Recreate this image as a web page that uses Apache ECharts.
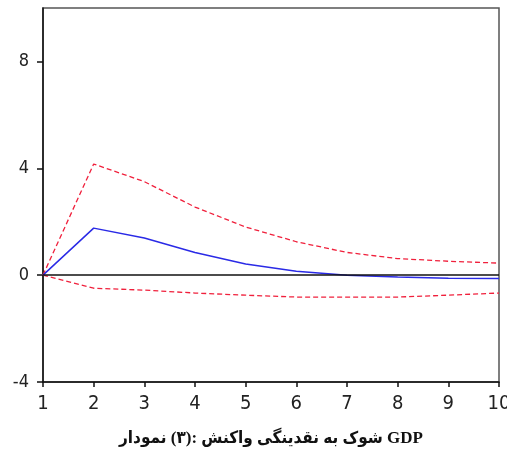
<!DOCTYPE html>
<html><head><meta charset="utf-8">
<script src="https://cdn.jsdelivr.net/npm/echarts@6/dist/echarts.min.js"></script>
<style>html,body{margin:0;padding:0;background:#fff}#c{width:507px;height:456px}</style>
</head><body><div id="c"></div>
<script>
const periods = [1,2,3,4,5,6,7,8,9,10];
const response = [0, 1.76, 1.39, 0.85, 0.42, 0.15, 0.0, -0.07, -0.12, -0.13];
const upperBand = [0, 4.16, 3.5, 2.55, 1.8, 1.25, 0.85, 0.62, 0.52, 0.45];
const lowerBand = [0, -0.49, -0.56, -0.67, -0.75, -0.82, -0.82, -0.82, -0.75, -0.67];
const yTicks = [-4, 0, 4, 8];
const title = 'نمودار (۳): واکنش نقدینگی به شوک GDP';

// the source lays the words out left to right; draw each word as its own piece
const titleShown = title.split(' ').map(w => '{w|' + w + '}').join('{w| }');
const titleStyle = {fontFamily: 'Liberation Serif, DejaVu Sans Condensed, DejaVu Sans, serif', fontWeight: 'bold', fontSize: 17, color: '#111'};
const pairs = arr => periods.map((p, i) => [p, arr[i]]);
const labelFont = 'Liberation Sans Narrow, DejaVu Sans Condensed, Arial, sans-serif';
const chart = echarts.init(document.getElementById('c'), null, {renderer: 'canvas'});
chart.setOption({
  animation: false,
  backgroundColor: '#fff',
  title: {
    text: titleShown, left: 266, top: 425, textAlign: 'center',
    textStyle: Object.assign({}, titleStyle, {rich: {w: titleStyle}})
  },
  grid: {left: 43, right: 8, top: 8, bottom: 74, outerBoundsMode: 'none', containLabel: false, show: true, borderColor: '#555', borderWidth: 1.5, backgroundColor: '#fff'},
  xAxis: {
    type: 'value', min: 1, max: 10, interval: 1,
    axisLine: {show: true, onZero: false, lineStyle: {color: '#111', width: 1.5}},
    axisTick: {show: true, length: 5, lineStyle: {color: '#111', width: 1.5}},
    axisLabel: {margin: 12, fontFamily: labelFont, fontSize: 20, color: '#222', hideOverlap: false},
    splitLine: {show: false}
  },
  yAxis: {
    type: 'value', min: -4, max: 10,
    axisLine: {show: true, onZero: false, lineStyle: {color: '#111', width: 1.5}},
    axisTick: {show: true, length: 6, customValues: yTicks, lineStyle: {color: '#111', width: 1.5}},
    axisLabel: {margin: 14, customValues: yTicks, fontFamily: labelFont, fontSize: 18, color: '#222'},
    splitLine: {show: false}
  },
  series: [
    {type: 'line', data: pairs(upperBand), symbol: 'none', lineStyle: {color: '#f0203c', width: 1.3, type: [5, 3]}},
    {type: 'line', data: pairs(lowerBand), symbol: 'none', lineStyle: {color: '#f0203c', width: 1.3, type: [5, 3]}},
    {type: 'line', data: pairs(response), symbol: 'none', lineStyle: {color: '#2a2ae6', width: 1.5},
     markLine: {silent: true, symbol: 'none', label: {show: false}, lineStyle: {color: '#111', type: 'solid', width: 1.5}, data: [{yAxis: 0}]}, z: 3}
  ]
});
</script></body></html>
